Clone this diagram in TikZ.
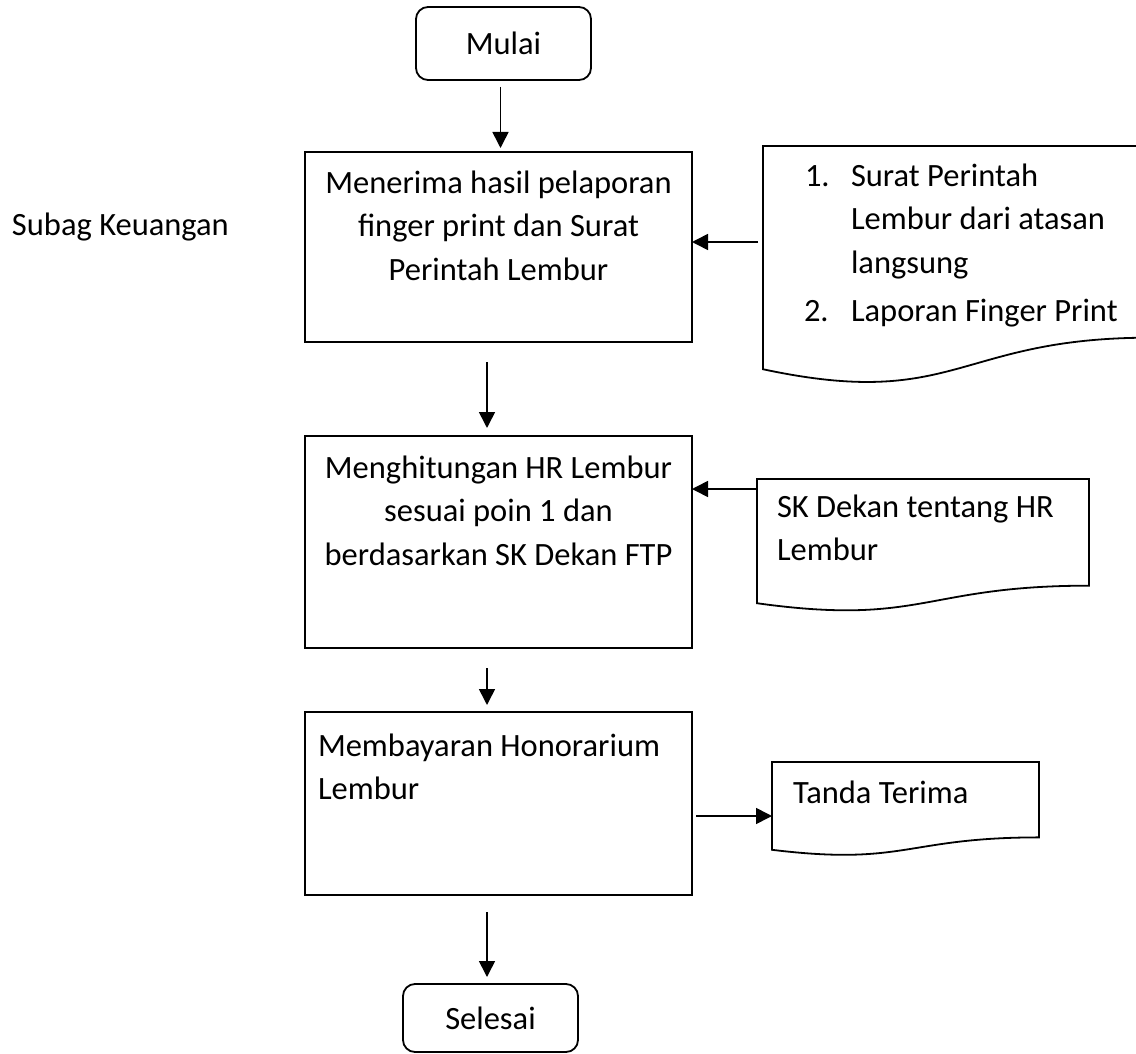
\documentclass[tikz,border=0pt]{standalone}
\usepackage{fontspec}
\setmainfont{Carlito}
\usetikzlibrary{arrows.meta,calc}

% outline of a flowchart "document" symbol laid over a named rectangle node
\newcommand\docoutline[1]{%
  \draw[boxline] (#1.north west) -- (#1.north east)
    -- ($(#1.north east)!0.802!(#1.south east)$)
    .. controls ($(#1.north)!0.802!(#1.south)$) and ($(#1.north)!1.1075!(#1.south)$)
    .. ($(#1.north west)!0.934!(#1.south west)$) -- cycle;}

\begin{document}
\begin{tikzpicture}[
  x=1pt, y=-1pt,
  boxline/.style={draw=black, line width=1.8pt},
  stepbox/.style={boxline, rectangle, inner sep=0pt, outer sep=0pt, anchor=north west},
  termbox/.style={stepbox, rounded corners=12pt, font=\fontsize{32.5}{43.5}\selectfont},
  docarea/.style={rectangle, inner sep=0pt, outer sep=0pt, anchor=north west},
  lbl/.style={inner sep=0pt, outer sep=0pt, font=\fontsize{32.5}{43.5}\selectfont},
  arr/.style={line width=1.6pt, -{Triangle[length=16pt,width=16pt]}},
]
\useasboundingbox (0,0) rectangle (1136,1054);

% process column
\node[termbox, minimum width=175pt, minimum height=73pt] (start) at (416,7) {Mulai};
\node[stepbox, minimum width=387pt, minimum height=190pt] (b1) at (305,152) {};
\node[stepbox, minimum width=387pt, minimum height=212pt] (b2) at (305,436) {};
\node[stepbox, minimum width=387pt, minimum height=183pt] (b3) at (305,712) {};
\node[termbox, minimum width=175pt, minimum height=68pt] (stop) at (403,984) {Selesai};

% step texts (multi-line blocks are placed by the baseline of their last line)
\node[lbl, anchor=base, align=center] (b1t) at (498.5,280)
  {Menerima hasil pelaporan\\finger print dan Surat\\Perintah Lembur};
\node[lbl, anchor=base, align=center] (b2t) at (498.5,565)
  {Menghitungan HR Lembur\\sesuai poin 1 dan\\berdasarkan SK Dekan FTP};
\node[lbl, anchor=base west, align=left] (b3t) at (318,799.5)
  {Membayaran Honorarium\\Lembur};

% unit label
\node[lbl, anchor=base west] (unit) at (12,236) {Subag Keuangan};

% documents
\node[docarea, minimum width=387pt, minimum height=239pt] (d1) at (763,146) {};
\node[docarea, minimum width=332pt, minimum height=133pt] (d2) at (757,479) {};
\node[docarea, minimum width=267pt, minimum height=94pt] (d3) at (772,762) {};
\docoutline{d1}
\docoutline{d2}
\docoutline{d3}

\node[lbl, anchor=base west] (n1) at (805,186) {1.};
\node[lbl, anchor=base west, align=left] (i1) at (851,273)
  {Surat Perintah\\Lembur dari atasan\\langsung};
\node[lbl, anchor=base west] (n2) at (804,321) {2.};
\node[lbl, anchor=base west] (i2) at (851,321) {Laporan Finger Print};
\node[lbl, anchor=base west, align=left] (d2t) at (777,560.5)
  {SK Dekan tentang HR\\Lembur};
\node[lbl, anchor=base west] (d3t) at (793,803) {Tanda Terima};

% connectors
\draw[arr, shorten <=7pt, shorten >=4pt] ([xshift=-3pt]start.south) -- ([xshift=-3pt]start.south |- b1.north);
\draw[arr, shorten <=20pt, shorten >=8pt] ([xshift=-11.5pt]b1.south) -- ([xshift=-11.5pt]b2.north);
\draw[arr, shorten <=20pt, shorten >=7pt] ([xshift=-11.5pt]b2.south) -- ([xshift=-11.5pt]b3.north);
\draw[arr, shorten <=17pt, shorten >=7pt] ([xshift=-11.5pt]b3.south) -- ([xshift=-11.5pt]b3.south |- stop.north);
\draw[arr, shorten <=5pt] ([yshift=23.5pt]d1.west) -- ([yshift=23.5pt]d1.west -| b1.east);
\draw[arr] ([yshift=56.5pt]d2.west) -- ([yshift=56.5pt]d2.west -| b2.east);
\draw[arr, shorten <=4pt] ([yshift=-7pt]d3.west -| b3.east) -- ([yshift=-7pt]d3.west);
\end{tikzpicture}
\end{document}
